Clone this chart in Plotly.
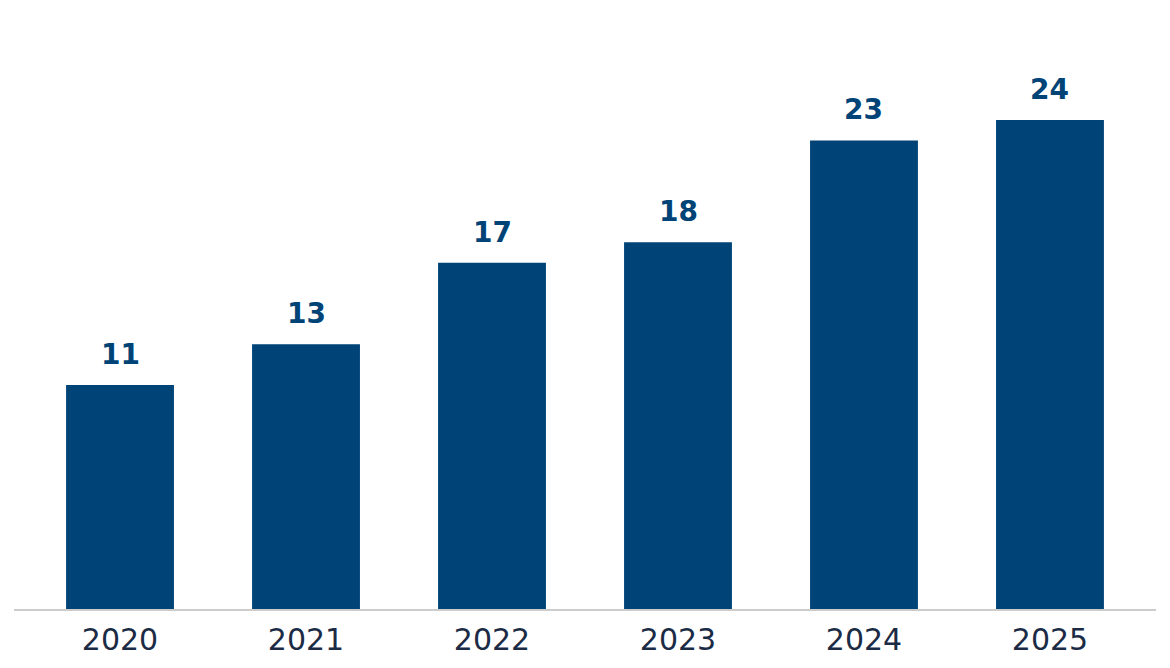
import plotly.graph_objects as go

years = ['2020', '2021', '2022', '2023', '2024', '2025']
values = [11, 13, 17, 18, 23, 24]

BAR_COLOR = '#004377'
TICK_COLOR = '#1b2b45'

fig = go.Figure()
fig.add_trace(go.Bar(
    x=years,
    y=values,
    marker=dict(color=BAR_COLOR, line=dict(width=0)),
    width=0.58,
    hoverinfo='skip'))

# value labels sit a bit higher above the bars than textposition='outside' allows
for i, val in enumerate(values):
    fig.add_annotation(
        x=i, y=val,
        xref='x', yref='y',
        text='<b>%d</b>' % val,
        showarrow=False,
        yanchor='bottom',
        yshift=12,
        font=dict(family='DejaVu Sans', size=28, color=BAR_COLOR))

fig.update_layout(
    width=1170,
    height=668,
    margin=dict(l=6, r=22, t=51, b=67),
    plot_bgcolor='white',
    paper_bgcolor='white',
    showlegend=False,
    font=dict(family='DejaVu Sans'),
    xaxis=dict(
        type='category',
        range=[-0.57, 5.57],
        showgrid=False,
        showline=True,
        linecolor='#cccccc',
        linewidth=1.5,
        ticks='',
        ticklabelstandoff=3,
        tickfont=dict(size=30, color=TICK_COLOR),
    ),
    yaxis=dict(
        range=[0, 27],
        showticklabels=False,
        showgrid=False,
        zeroline=False,
        showline=False,
    ),
)

fig.write_html("out.html")
